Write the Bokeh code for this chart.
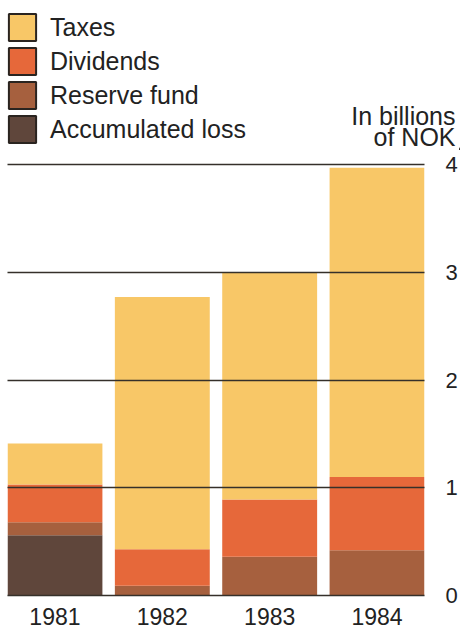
from bokeh.plotting import figure
from bokeh.layouts import column
from bokeh.core.properties import value
from bokeh.models import (Range1d, FixedTicker, Legend, LegendItem,
                          ColumnDataSource)
from bokeh.embed import file_html
from bokeh.resources import INLINE

# ---- data (billions of NOK) ----
years = [1981, 1982, 1983, 1984]
year_labels = ["1981", "1982", "1983", "1984"]
accumulated_loss = [0.56, 0.0, 0.0, 0.0]
reserve_fund = [0.12, 0.09, 0.36, 0.42]
dividends = [0.35, 0.34, 0.53, 0.68]
taxes = [0.38, 2.34, 2.11, 2.87]
series_names = ["Taxes", "Dividends", "Reserve fund", "Accumulated loss"]
series_keys = ["tax", "div", "reserve", "loss"]
series_colors = ["#F8C767", "#E6683A", "#A6603E", "#5F463B"]
y_ticks = [0, 1, 2, 3, 4]
unit_lines = ["In billions", "of NOK"]

FONT = "Liberation Sans"
TXT = "#222222"

src = ColumnDataSource(dict(x=years, label=year_labels, loss=accumulated_loss,
                            reserve=reserve_fund, div=dividends, tax=taxes))

# ---------------- header: legend + unit caption ----------------
HEAD_W, HEAD_H = 460, 150
head = figure(width=HEAD_W, height=HEAD_H, x_range=Range1d(0, HEAD_W), y_range=Range1d(0, HEAD_H),
              output_backend="svg", toolbar_location=None,
              min_border=0, min_border_left=0, min_border_right=0,
              min_border_top=0, min_border_bottom=0)
head.frame_align = False
head.axis.visible = False
head.grid.visible = False
head.outline_line_color = None
head.background_fill_color = "white"
head.border_fill_color = "white"

swatches = []
for key, c in zip(series_keys, series_colors):
    # bars at the year positions fall outside the header's pixel range: used only as legend swatches
    r = head.vbar(x="x", top=key, width=0.5, source=src,
                  fill_color=c, line_color="#2a2420", line_width=2)
    swatches.append(r)
legend = Legend(items=[LegendItem(label=n, renderers=[r]) for n, r in zip(series_names, swatches)],
                location=(5, 4), orientation="vertical",
                glyph_width=34, glyph_height=34, spacing=0, padding=0, margin=0,
                label_standoff=11, label_text_font=FONT, label_text_font_size="25px",
                label_text_color=TXT, border_line_color=None, background_fill_alpha=0)
head.add_layout(legend)

# unit caption (header coordinates are pixels)
cap_src = ColumnDataSource(dict(t=unit_lines,
                                x=[HEAD_W - 5] * len(unit_lines),
                                y=[35 - 21 * i for i in range(len(unit_lines))]))
head.text(x="x", y="y", text="t", source=cap_src, text_align="right",
          text_baseline="alphabetic", text_font=value(FONT),
          text_font_size=value("25px"), text_color=TXT)

# ---------------- chart ----------------
CH_H = 628 - HEAD_H
PX_PER_UNIT = 107.75
ZERO_FROM_BOTTOM = 33
p = figure(width=460, height=CH_H,
           x_range=Range1d(1980.558, 1984.442),
           y_range=Range1d(-ZERO_FROM_BOTTOM / PX_PER_UNIT, (CH_H - ZERO_FROM_BOTTOM) / PX_PER_UNIT),
           y_axis_location="right",
           output_backend="svg", toolbar_location=None,
           min_border_left=7, min_border_right=36,
           min_border_top=0, min_border_bottom=0)
p.frame_align = False
p.outline_line_color = None
p.background_fill_color = "white"
p.border_fill_color = "white"
p.xaxis.visible = False

# stacked bars (bottom -> top)
p.vbar_stack(["loss", "reserve", "div", "tax"], x="x", width=0.884,
             fill_color=[series_colors[3], series_colors[2], series_colors[1], series_colors[0]],
             line_color=None, source=src)

# year labels under the bars
p.text(x="x", y=0, text="label", source=src, text_align="center", text_baseline="top",
       y_offset=12, text_font=value(FONT), text_font_size=value("23px"), text_color=TXT)

# grid lines drawn over bars
p.xgrid.visible = False
p.ygrid.ticker = FixedTicker(ticks=y_ticks)
p.ygrid.grid_line_color = "#35302a"
p.ygrid.grid_line_width = 1.5
p.ygrid.level = "overlay"

# y axis (right)
ya = p.yaxis[0]
ya.ticker = FixedTicker(ticks=y_ticks)
ya.axis_line_color = None
ya.major_tick_line_color = None
ya.minor_tick_line_color = None
ya.major_tick_out = 0
ya.major_tick_in = 0
ya.minor_tick_out = 0
ya.major_label_standoff = 21
ya.major_label_text_font = FONT
ya.major_label_text_font_size = "22px"
ya.major_label_text_color = TXT

layout = column(head, p, spacing=0)
open("out.html", "w").write(file_html(layout, INLINE))
